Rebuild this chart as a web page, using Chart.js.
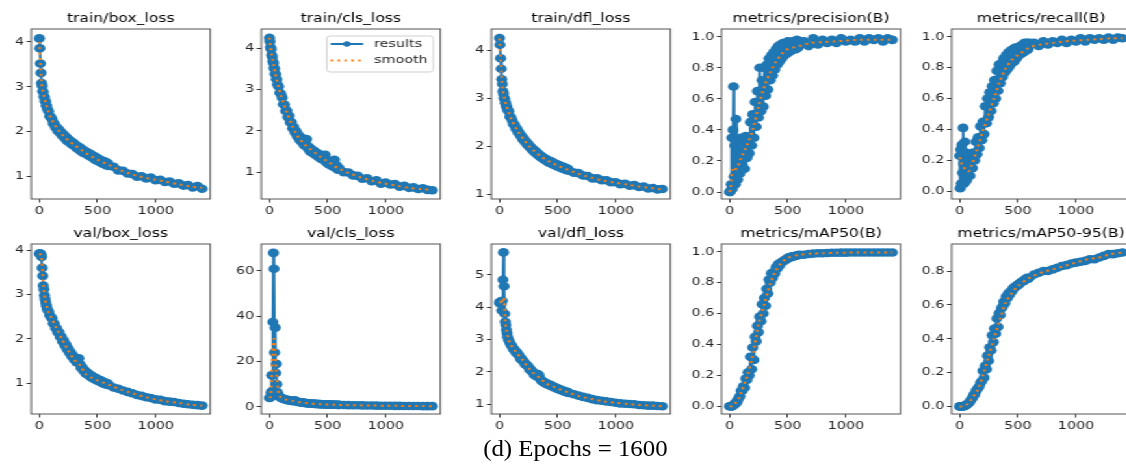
<!DOCTYPE html>
<html>
<head>
<meta charset="utf-8">
<script src="https://cdn.jsdelivr.net/npm/chart.js@4.4.1/dist/chart.umd.min.js"></script>
<style>
  html, body { margin: 0; padding: 0; background: #fff; overflow: hidden; width: 1126px; height: 467px; }
  #grid { position: absolute; left: 0; top: 0; width: 870px; height: 467px; transform: scaleX(1.3); transform-origin: 0 0; }
  #grid canvas { position: absolute; }
  #caption { position: absolute; left: 0; width: 1150px; top: 436px; text-align: center; }
  #caption span { display: inline-block; transform: scaleX(1.08); font-family: "Liberation Serif", "Times New Roman", serif; font-size: 23px; color: #000; }
</style>
</head>
<body>
<div id="grid"></div>
<div id="caption"><span>(d) Epochs = 1600</span></div>
<script>
// epochs of the sampled "results" points
const epochs = [1,5,10,15,20,25,30,35,40,45,50,55,60,65,70,80,90,100,
  110,120,130,140,150,160,170,180,190,200,210,220,230,240,250,260,270,280,290,300,
  310,320,330,340,350,360,370,380,390,400,410,420,430,440,450,460,470,480,490,500,
  510,520,530,540,550,560,570,580,590,600,
  640,680,720,760,800,840,880,920,960,1000,1040,1080,1120,1160,1200,1240,1280,1320,1360,1400]
// epochs of the sampled "smooth" points
const smoothEpochs = [1,10,20,30,40,50,60,80,100,150,200,250,300,350,400,450,500,600,700,800,900,1000,1100,1200,1300,1400]

const trainBox = [4.08,3.86,3.52,3.31,3.08,3.02,2.9,2.88,2.78,2.77,2.68,2.67,2.58,2.57,2.5,2.45,2.34,2.32,
  2.27,2.18,2.17,2.09,2.1,2.01,2.04,1.96,1.98,1.9,1.93,1.85,1.88,1.79,1.83,1.76,1.79,1.71,1.75,1.68,
  1.71,1.63,1.67,1.6,1.64,1.56,1.6,1.52,1.57,1.5,1.54,1.47,1.51,1.44,1.48,1.41,1.45,1.37,1.42,1.34,
  1.39,1.32,1.36,1.29,1.34,1.27,1.32,1.24,1.29,1.23,
  1.21,1.13,1.12,1.06,1.05,0.99,1.0,0.95,0.97,0.91,0.92,0.87,0.88,0.83,0.84,0.79,0.8,0.75,0.78,0.72]
const trainBoxSmooth = [4.0,3.55,3.1,2.92,2.8,2.7,2.6,2.43,2.3,2.08,1.92,1.8,1.7,1.61,1.52,1.44,1.37,1.25,1.13,1.04,0.97,0.92,0.87,0.82,0.77,0.74]

const trainCls = [4.25,4.16,4.02,3.97,3.83,3.79,3.68,3.64,3.52,3.5,3.38,3.36,3.25,3.24,3.12,3.07,2.92,2.88,
  2.8,2.64,2.63,2.48,2.49,2.33,2.36,2.2,2.21,2.06,2.09,1.96,1.99,1.86,1.9,1.78,1.84,1.72,1.75,1.65,
  1.72,1.8,1.58,1.61,1.5,1.56,1.47,1.52,1.43,1.48,1.39,1.45,1.35,1.41,1.31,1.38,1.3,1.42,1.24,1.29,
  1.19,1.25,1.16,1.22,1.13,1.3,1.1,1.16,1.06,1.09,
  1.0,0.99,0.92,0.91,0.84,0.85,0.78,0.8,0.72,0.75,0.7,0.71,0.65,0.67,0.62,0.63,0.59,0.61,0.57,0.56]
const trainClsSmooth = [4.25,4.04,3.85,3.7,3.55,3.4,3.28,3.05,2.85,2.45,2.1,1.84,1.68,1.56,1.45,1.35,1.26,1.08,0.96,0.86,0.78,0.72,0.67,0.62,0.59,0.57]

const trainDfl = [4.26,4.12,3.84,3.62,3.4,3.3,3.15,3.1,3.01,2.99,2.91,2.9,2.83,2.82,2.76,2.73,2.62,2.6,
  2.54,2.46,2.45,2.37,2.37,2.29,2.29,2.22,2.22,2.15,2.16,2.09,2.1,2.03,2.04,1.98,1.99,1.93,1.94,1.88,
  1.9,1.84,1.86,1.8,1.82,1.76,1.78,1.73,1.75,1.7,1.72,1.67,1.7,1.65,1.68,1.62,1.65,1.6,1.63,1.58,
  1.61,1.56,1.59,1.54,1.57,1.52,1.55,1.5,1.53,1.49,
  1.45,1.44,1.39,1.38,1.33,1.33,1.29,1.29,1.25,1.25,1.21,1.22,1.18,1.19,1.15,1.16,1.12,1.13,1.1,1.11]
const trainDflSmooth = [4.25,3.85,3.42,3.17,3.03,2.93,2.85,2.71,2.58,2.35,2.17,2.02,1.9,1.8,1.72,1.66,1.6,1.5,1.41,1.34,1.28,1.24,1.2,1.16,1.13,1.1]

const precision = [0.0,0.0,0.01,0.05,0.35,0.02,0.4,0.68,0.1,0.3,0.05,0.47,0.15,0.33,0.08,0.3,0.12,0.35,
  0.18,0.3,0.15,0.36,0.22,0.33,0.25,0.45,0.3,0.5,0.35,0.58,0.42,0.65,0.48,0.8,0.52,0.72,0.55,0.8,
  0.62,0.82,0.66,0.86,0.72,0.88,0.75,0.9,0.79,0.92,0.82,0.94,0.84,0.95,0.86,0.96,0.88,0.96,0.89,0.97,
  0.9,0.96,0.91,0.97,0.92,0.97,0.92,0.98,0.93,0.97,
  0.97,0.94,0.99,0.95,0.98,0.96,0.98,0.96,0.99,0.97,0.98,0.97,0.99,0.97,0.99,0.98,0.99,0.97,0.99,0.98]
const precisionSmooth = [0.0,0.02,0.12,0.15,0.15,0.14,0.16,0.18,0.22,0.3,0.4,0.55,0.68,0.77,0.84,0.89,0.92,0.94,0.96,0.965,0.97,0.975,0.98,0.98,0.98,0.98]

const recall = [0.23,0.02,0.27,0.05,0.3,0.12,0.41,0.18,0.05,0.32,0.1,0.25,0.07,0.2,0.1,0.2,0.1,0.2,
  0.15,0.25,0.2,0.32,0.24,0.35,0.28,0.42,0.33,0.45,0.37,0.55,0.44,0.6,0.48,0.64,0.52,0.68,0.57,0.72,
  0.6,0.78,0.65,0.82,0.7,0.83,0.74,0.86,0.77,0.88,0.79,0.9,0.81,0.91,0.83,0.92,0.84,0.93,0.86,0.93,
  0.88,0.94,0.89,0.95,0.9,0.96,0.91,0.96,0.92,0.96,
  0.96,0.94,0.97,0.95,0.97,0.96,0.98,0.96,0.98,0.97,0.99,0.97,0.99,0.98,0.99,0.98,0.995,0.98,0.995,0.99]
const recallSmooth = [0.22,0.2,0.17,0.16,0.15,0.14,0.14,0.13,0.16,0.27,0.39,0.5,0.61,0.72,0.8,0.85,0.88,0.93,0.95,0.96,0.97,0.975,0.98,0.985,0.99,0.99]

const valBox = [3.92,3.93,3.92,3.9,3.85,3.6,3.42,3.2,3.12,2.98,2.9,2.83,2.76,2.72,2.66,2.62,2.53,2.49,
  2.46,2.35,2.34,2.24,2.24,2.14,2.15,2.04,2.05,1.94,1.96,1.85,1.87,1.76,1.78,1.68,1.7,1.6,1.62,1.53,
  1.55,1.47,1.5,1.56,1.43,1.34,1.36,1.28,1.29,1.21,1.24,1.18,1.2,1.14,1.17,1.11,1.13,1.08,1.11,1.05,
  1.08,1.03,1.06,1.0,1.03,0.98,1.01,0.96,0.99,0.95,
  0.9,0.87,0.83,0.8,0.77,0.73,0.71,0.68,0.66,0.63,0.62,0.59,0.58,0.57,0.55,0.53,0.52,0.51,0.5,0.49]
const valBoxSmooth = [3.92,3.91,3.85,3.45,3.1,2.9,2.78,2.6,2.5,2.23,1.97,1.73,1.53,1.4,1.2,1.12,1.06,0.96,0.85,0.77,0.69,0.63,0.58,0.55,0.51,0.49]

const valCls = [4.0,4.1,4.3,6.5,14,7,37.5,68,61,24,35,15,19,10,6.5,5.2,4.4,4.0,
  3.8,3.6,3.45,3.3,3.15,3.0,2.9,2.8,2.7,2.6,2.75,2.9,2.45,2.3,2.2,2.1,2.05,2.0,1.9,1.8,
  1.75,1.7,1.65,1.6,1.55,1.5,1.46,1.42,1.38,1.35,1.32,1.3,1.27,1.25,1.22,1.2,1.17,1.15,1.12,1.1,
  1.08,1.06,1.04,1.02,1.0,0.98,0.97,0.95,0.93,0.92,
  0.86,0.81,0.77,0.73,0.7,0.66,0.63,0.6,0.57,0.55,0.52,0.5,0.48,0.46,0.44,0.42,0.4,0.39,0.37,0.36]
const valClsSmooth = [4.0,4.5,12,28,30,24,16,6,4.2,3.2,2.7,2.2,1.85,1.55,1.35,1.22,1.1,0.92,0.79,0.7,0.61,0.55,0.49,0.44,0.39,0.36]

const valDfl = [4.15,4.12,4.18,4.1,3.9,4.2,4.85,5.7,4.65,3.8,3.55,3.45,3.3,3.2,3.08,2.98,2.9,2.82,
  2.79,2.7,2.69,2.6,2.6,2.53,2.5,2.4,2.41,2.34,2.32,2.23,2.24,2.18,2.16,2.06,2.07,2.0,1.99,1.9,
  1.92,1.85,1.93,1.9,1.79,1.72,1.71,1.67,1.67,1.63,1.63,1.59,1.6,1.57,1.57,1.53,1.53,1.5,1.5,1.47,
  1.47,1.44,1.44,1.41,1.42,1.38,1.39,1.36,1.37,1.34,
  1.3,1.26,1.22,1.19,1.15,1.12,1.1,1.08,1.06,1.04,1.02,1.01,1.0,0.99,0.97,0.96,0.95,0.95,0.94,0.93]
const valDflSmooth = [4.15,4.16,4.1,4.28,4.3,3.6,3.3,2.98,2.82,2.58,2.36,2.12,1.93,1.8,1.64,1.56,1.48,1.35,1.23,1.15,1.08,1.04,1.0,0.97,0.95,0.93]

const map50 = [0.0,0.0,0.0,0.0,0.0,0.0,0.005,0.01,0.008,0.015,0.02,0.018,0.03,0.028,0.04,0.055,0.065,0.1,
  0.1,0.13,0.12,0.18,0.17,0.22,0.2,0.32,0.24,0.38,0.3,0.45,0.42,0.52,0.48,0.58,0.55,0.66,0.6,0.7,
  0.65,0.76,0.73,0.82,0.8,0.86,0.83,0.87,0.86,0.9,0.89,0.92,0.91,0.93,0.93,0.94,0.94,0.95,0.95,0.96,
  0.96,0.965,0.965,0.97,0.97,0.972,0.974,0.976,0.978,0.98,
  0.98,0.985,0.988,0.99,0.99,0.992,0.993,0.993,0.994,0.994,0.995,0.995,0.995,0.995,0.995,0.995,0.995,0.995,0.995,0.995]
const map50Smooth = [0.0,0.0,0.0,0.005,0.01,0.02,0.03,0.05,0.09,0.19,0.33,0.53,0.66,0.79,0.88,0.93,0.96,0.98,0.988,0.99,0.993,0.994,0.995,0.995,0.995,0.995]

const map5095 = [0,0,0,0,0,0,0,0.002,0.003,0.004,0.005,0.007,0.01,0.012,0.015,0.02,0.03,0.04,
  0.05,0.065,0.07,0.09,0.1,0.11,0.12,0.14,0.15,0.21,0.17,0.24,0.22,0.3,0.27,0.35,0.33,0.42,0.38,0.46,
  0.43,0.52,0.47,0.55,0.54,0.58,0.59,0.62,0.61,0.65,0.64,0.67,0.66,0.68,0.68,0.7,0.7,0.71,0.71,0.72,
  0.72,0.73,0.735,0.74,0.74,0.75,0.75,0.76,0.755,0.76,
  0.78,0.79,0.8,0.8,0.81,0.82,0.83,0.835,0.845,0.85,0.855,0.86,0.87,0.87,0.88,0.89,0.9,0.9,0.905,0.91]
const map5095Smooth = [0,0,0,0,0.003,0.005,0.01,0.02,0.04,0.09,0.18,0.3,0.41,0.52,0.62,0.67,0.71,0.76,0.79,0.81,0.83,0.85,0.87,0.88,0.9,0.91]

// tick labels
const xTicks = [0, 500, 1000]
const lossTicks = [1, 2, 3, 4]
const dflValTicks = [1, 2, 3, 4, 5]
const clsValTicks = [0, 20, 40, 60]
const metricTicks = [0.0, 0.2, 0.4, 0.6, 0.8, 1.0]
const map5095Ticks = [0.0, 0.2, 0.4, 0.6, 0.8]

const panels = [
  { title: "train/box_loss", y: trainBox, sm: trainBoxSmooth, min: 0.49, max: 4.29, ticks: lossTicks, dec: 0 },
  { title: "train/cls_loss", y: trainCls, sm: trainClsSmooth, min: 0.35, max: 4.46, ticks: lossTicks, dec: 0, legend: true },
  { title: "train/dfl_loss", y: trainDfl, sm: trainDflSmooth, min: 0.9, max: 4.45, ticks: lossTicks, dec: 0 },
  { title: "metrics/precision(B)", y: precision, sm: precisionSmooth, min: -0.045, max: 1.05, ticks: metricTicks, dec: 1 },
  { title: "metrics/recall(B)", y: recall, sm: recallSmooth, min: -0.05, max: 1.05, ticks: metricTicks, dec: 1 },
  { title: "val/box_loss", y: valBox, sm: valBoxSmooth, min: 0.3, max: 4.14, ticks: lossTicks, dec: 0 },
  { title: "val/cls_loss", y: valCls, sm: valClsSmooth, min: -3.1, max: 71.9, ticks: clsValTicks, dec: 0 },
  { title: "val/dfl_loss", y: valDfl, sm: valDflSmooth, min: 0.69, max: 5.96, ticks: dflValTicks, dec: 0 },
  { title: "metrics/mAP50(B)", y: map50, sm: map50Smooth, min: -0.05, max: 1.05, ticks: metricTicks, dec: 1 },
  { title: "metrics/mAP50-95(B)", y: map5095, sm: map5095Smooth, min: -0.045, max: 0.96, ticks: map5095Ticks, dec: 1 }
]

// layout (picture pixels are divided by the horizontal stretch S)
const S = 1.3
const colLeft = [31, 261, 491, 721, 951]
const rowTop = [29.3, 244.3]
const Y_W = 30, X_H = 22, TITLE_H = 20, PAD_R = 4, BOX_W = 138, BOX_H = 170
const BLUE = "#1f77b4", ORANGE = "#ff7f0e"
const FONT = "DejaVu Sans"

// full box round the plot, like matplotlib spines
const frame = {
  id: "frame",
  afterDraw(chart) {
    const { ctx, chartArea: a } = chart
    ctx.save()
    ctx.strokeStyle = "#555"
    ctx.lineWidth = 1
    ctx.strokeRect(a.left, a.top, a.right - a.left, a.bottom - a.top)
    ctx.restore()
  }
}

// matplotlib-style legend box inside the plot
const legendBox = {
  id: "legendBox",
  afterDraw(chart, args, opts) {
    if (!opts.show) return
    const { ctx, chartArea: a } = chart
    const w = 82, h = 36
    const x = a.right - 5.4 - w, y = a.top + 7
    const ds = chart.data.datasets
    ctx.save()
    ctx.fillStyle = "rgba(255,255,255,0.85)"
    ctx.strokeStyle = "#d0d0d0"
    ctx.lineWidth = 1
    ctx.beginPath()
    ctx.roundRect(x, y, w, h, 2.5)
    ctx.fill()
    ctx.stroke()
    const r1 = a.top + 15, r2 = a.top + 31.5
    const hx0 = x + 3, hx1 = x + 28
    // results handle
    ctx.strokeStyle = BLUE
    ctx.lineWidth = 2
    ctx.beginPath(); ctx.moveTo(hx0, r1); ctx.lineTo(hx1, r1); ctx.stroke()
    ctx.fillStyle = BLUE
    ctx.beginPath(); ctx.arc((hx0 + hx1) / 2, r1, 2.8, 0, Math.PI * 2); ctx.fill()
    // smooth handle
    ctx.strokeStyle = ORANGE
    ctx.setLineDash([2, 3.3])
    ctx.beginPath(); ctx.moveTo(hx0, r2); ctx.lineTo(hx1, r2); ctx.stroke()
    ctx.setLineDash([])
    ctx.fillStyle = "#222"
    ctx.font = "11px " + FONT
    ctx.textBaseline = "middle"
    ctx.fillText(ds[0].label, x + 36.5, r1)
    ctx.fillText(ds[1].label, x + 36.5, r2)
    ctx.restore()
  }
}

const grid = document.getElementById("grid")

panels.forEach((p, i) => {
  const col = i % 5, row = Math.floor(i / 5)
  const cv = document.createElement("canvas")
  cv.width = Y_W + BOX_W + PAD_R
  cv.height = TITLE_H + BOX_H + X_H
  cv.style.left = (colLeft[col] / S - Y_W) + "px"
  cv.style.top = (rowTop[row] - TITLE_H) + "px"
  grid.appendChild(cv)

  new Chart(cv, {
    type: "line",
    data: {
      datasets: [{
        label: "results",
        order: 1,
        data: epochs.map((e, k) => ({ x: e, y: p.y[k] })),
        borderColor: BLUE,
        backgroundColor: BLUE,
        borderWidth: 2,
        borderJoinStyle: "round",
        borderCapStyle: "round",
        pointRadius: 4.3,
        pointBorderWidth: 0,
        pointBackgroundColor: BLUE,
        tension: 0
      },
      {
        label: "smooth",
        order: 0,
        data: smoothEpochs.map((e, k) => ({ x: e, y: p.sm[k] })),
        borderColor: ORANGE,
        borderWidth: 2,
        borderDash: [2, 3.3],
        pointRadius: 0,
        tension: 0.3
      }]
    },
    options: {
      responsive: false,
      animation: false,
      events: [],
      layout: { padding: { left: 0, right: PAD_R, top: 0, bottom: 0 } },
      plugins: {
        legend: { display: false },
        tooltip: { enabled: false },
        title: {
          display: true,
          text: p.title,
          fullSize: false,
          color: "#000",
          font: { family: FONT, size: 12, weight: "normal" },
          padding: { top: 3, bottom: 2.6 }
        },
        legendBox: { show: !!p.legend }
      },
      scales: {
        x: {
          type: "linear",
          min: -69,
          max: 1470,
          afterFit: s => { s.height = X_H },
          afterBuildTicks: s => { s.ticks = xTicks.map(v => ({ value: v })) },
          border: { display: false },
          grid: { drawOnChartArea: false, drawTicks: true, tickLength: 3.5, tickColor: "#333" },
          ticks: { color: "#222", padding: 2, maxRotation: 0, font: { family: FONT, size: 11 }, callback: v => String(v) }
        },
        y: {
          min: p.min,
          max: p.max,
          afterFit: s => { s.width = Y_W },
          afterBuildTicks: s => { s.ticks = p.ticks.map(v => ({ value: v })) },
          border: { display: false },
          grid: { drawOnChartArea: false, drawTicks: true, tickLength: 3.5, tickColor: "#333" },
          ticks: {
            color: "#222",
            padding: 2,
            font: { family: FONT, size: 11 },
            callback: v => v.toFixed(p.dec)
          }
        }
      }
    },
    plugins: [frame, legendBox]
  })
})
</script>
</body>
</html>
